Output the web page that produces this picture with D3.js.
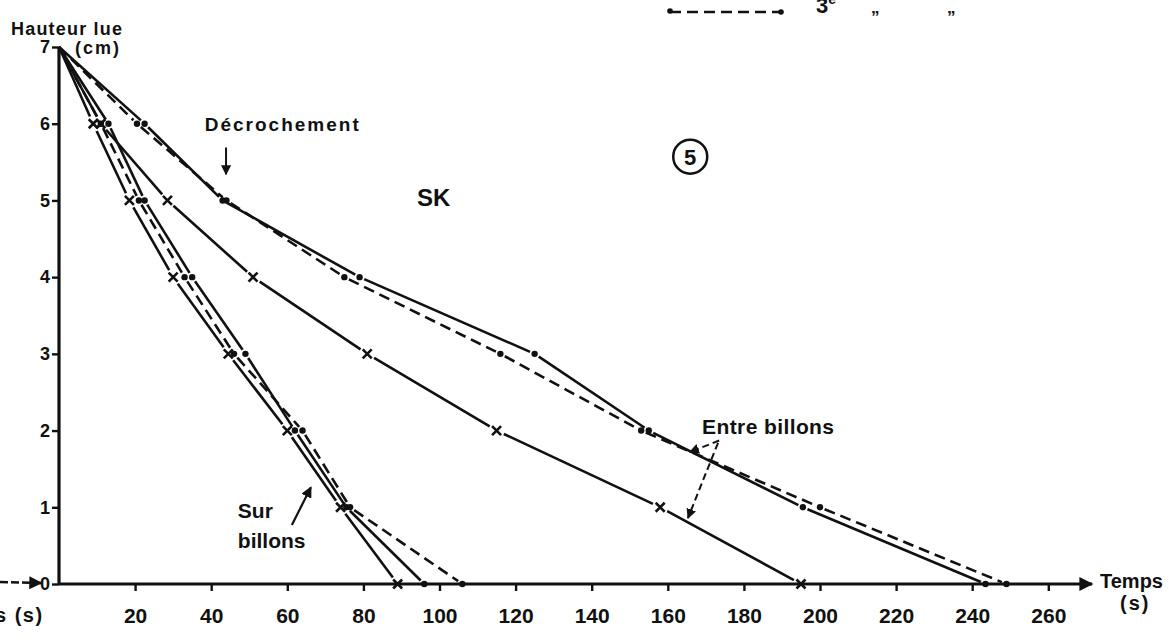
<!DOCTYPE html>
<html>
<head>
<meta charset="utf-8">
<script src="https://cdn.jsdelivr.net/npm/d3@7"></script>
<style>
  html, body { margin: 0; padding: 0; background: #fff; }
  svg { display: block; }
  text { font-family: "Liberation Sans", Arial, sans-serif; font-weight: bold; fill: #111; }
</style>
</head>
<body>
<svg id="chart" width="1169" height="643"></svg>
<script>
// Hauteur lue (cm) at each reading
const hauteurs = [7, 6, 5, 4, 3, 2, 1, 0];

// Temps (s) for each trial — "Sur billons"
const surEssai1 = [0, 9, 18.5, 30, 44.5, 60, 74, 89];
const surEssai2 = [0, 13, 22.5, 35, 49, 62, 75.5, 96];
const surEssai3 = [0, 11, 21, 33, 46, 64, 76.5, 106];

// Temps (s) for each trial — "Entre billons"
const entreEssai1 = [0, 11, 28.5, 51, 81, 115, 158, 195];
const entreEssai2 = [0, 22.5, 43, 79, 125, 155, 195.5, 243.5];
const entreEssai3 = [0, 20.5, 44, 75, 116, 153, 200, 249];

const xTicks = [20, 40, 60, 80, 100, 120, 140, 160, 180, 200, 220, 240, 260];
const yTicks = [0, 1, 2, 3, 4, 5, 6, 7];

const series = [
  { t: surEssai1, marker: "x", dashed: false },
  { t: surEssai2, marker: "dot", dashed: false },
  { t: surEssai3, marker: "dot", dashed: true },
  { t: entreEssai1, marker: "x", dashed: false },
  { t: entreEssai2, marker: "dot", dashed: false },
  { t: entreEssai3, marker: "dot", dashed: true }
];

const svg = d3.select("#chart");
const x = d3.scaleLinear().domain([0, 260]).range([59, 1048.3]);
const y = d3.scaleLinear().domain([0, 7]).range([584, 47]);

const ink = "#111";

// arrowheads
const defs = svg.append("defs");
defs.append("marker").attr("id", "head").attr("viewBox", "0 0 10 10")
  .attr("refX", 9).attr("refY", 5).attr("markerWidth", 5).attr("markerHeight", 5)
  .attr("markerUnits", "strokeWidth").attr("orient", "auto")
  .append("path").attr("d", "M0,0 L10,5 L0,10 z").attr("fill", ink);
defs.append("marker").attr("id", "bigHead").attr("viewBox", "0 0 10 10")
  .attr("refX", 9).attr("refY", 5).attr("markerWidth", 7).attr("markerHeight", 5)
  .attr("markerUnits", "strokeWidth").attr("orient", "auto")
  .append("path").attr("d", "M0,0 L10,5 L0,10 z").attr("fill", ink);

// axes
const xAxis = d3.axisBottom(x).tickValues(xTicks).tickSize(7).tickPadding(17)
  .tickFormat(d3.format("d"));
const gx = svg.append("g").attr("transform", `translate(0,${y(0)})`).call(xAxis);
gx.select(".domain").remove();
gx.selectAll(".tick line").attr("stroke", ink).attr("stroke-width", 2.4);
gx.selectAll(".tick text").attr("font-size", 21).attr("fill", ink);
svg.append("line")
  .attr("x1", x(0)).attr("x2", 1092).attr("y1", y(0)).attr("y2", y(0))
  .attr("stroke", ink).attr("stroke-width", 2.8).attr("marker-end", "url(#bigHead)");

const yAxis = d3.axisLeft(y).tickValues(yTicks).tickSize(7).tickPadding(2)
  .tickFormat(d3.format("d"));
const gy = svg.append("g").attr("transform", `translate(${x(0)},0)`).call(yAxis);
gy.select(".domain").remove();
gy.selectAll(".tick line").attr("stroke", ink).attr("stroke-width", 2.4);
gy.selectAll(".tick text").attr("font-size", 18).attr("fill", ink);
svg.append("line")
  .attr("x1", x(0)).attr("x2", x(0)).attr("y1", y(0) + 1).attr("y2", y(7))
  .attr("stroke", ink).attr("stroke-width", 3.2);

// axis titles
svg.append("text").attr("x", 11).attr("y", 35).attr("font-size", 18)
  .attr("letter-spacing", 1.2).text("Hauteur lue");
svg.append("text").attr("x", 75).attr("y", 54).attr("font-size", 18)
  .attr("letter-spacing", 2).text("(cm)");
svg.append("text").attr("x", 1100).attr("y", 588).attr("font-size", 20).text("Temps");
svg.append("text").attr("x", 1120).attr("y", 610).attr("font-size", 20)
  .attr("letter-spacing", 2).text("(s)");

// curves, each segment trimmed so the line stops short of its markers
const curves = svg.append("g");
series.forEach(s => {
  const pts = s.t.map((t, i) => [x(t), y(hauteurs[i])]);
  const gap = s.marker === "x" ? 8 : 5;
  for (let i = 0; i < pts.length - 1; i++) {
    const [x1, y1] = pts[i], [x2, y2] = pts[i + 1];
    const len = Math.hypot(x2 - x1, y2 - y1);
    const ux = (x2 - x1) / len, uy = (y2 - y1) / len;
    const a = i === 0 ? 0 : gap;
    const b = gap;
    curves.append("line")
      .attr("x1", x1 + ux * a).attr("y1", y1 + uy * a)
      .attr("x2", x2 - ux * b).attr("y2", y2 - uy * b)
      .attr("stroke", ink).attr("stroke-width", 2.6)
      .attr("stroke-dasharray", s.dashed ? "11,6" : null);
  }
  pts.slice(1).forEach(([px, py]) => {
    if (s.marker === "x") {
      const r = 4.5;
      curves.append("path")
        .attr("d", `M${px - r},${py - r}L${px + r},${py + r}M${px - r},${py + r}L${px + r},${py - r}`)
        .attr("stroke", ink).attr("stroke-width", 2.6).attr("fill", "none");
    } else {
      curves.append("circle").attr("cx", px).attr("cy", py).attr("r", 3.2).attr("fill", ink);
    }
  });
});

// annotations
const ann = svg.append("g");
ann.append("text").attr("x", x(38.3)).attr("y", y(5.91)).attr("font-size", 19)
  .attr("letter-spacing", 2).text("Décrochement");
ann.append("line").attr("x1", x(43.9)).attr("x2", x(43.9)).attr("y1", y(5.69)).attr("y2", y(5.34))
  .attr("stroke", ink).attr("stroke-width", 2).attr("marker-end", "url(#head)");

ann.append("text").attr("x", x(98.5)).attr("y", y(4.93)).attr("font-size", 24)
  .attr("text-anchor", "middle").text("SK");

ann.append("circle").attr("cx", x(165.9)).attr("cy", y(5.57)).attr("r", 17)
  .attr("fill", "none").attr("stroke", ink).attr("stroke-width", 2.5);
ann.append("text").attr("x", x(165.9)).attr("y", y(5.57) + 8).attr("font-size", 22)
  .attr("text-anchor", "middle").text("5");

ann.append("text").attr("x", x(169)).attr("y", y(1.95)).attr("font-size", 21)
  .attr("letter-spacing", 0.4).text("Entre billons");
ann.append("line").attr("x1", x(173.5)).attr("y1", y(1.87)).attr("x2", x(165.8)).attr("y2", y(1.72))
  .attr("stroke", ink).attr("stroke-width", 2).attr("stroke-dasharray", "7,4")
  .attr("marker-end", "url(#head)");
ann.append("line").attr("x1", x(173.2)).attr("y1", y(1.84)).attr("x2", x(165.3)).attr("y2", y(0.86))
  .attr("stroke", ink).attr("stroke-width", 2).attr("stroke-dasharray", "7,4")
  .attr("marker-end", "url(#head)");

ann.append("text").attr("x", x(47)).attr("y", y(0.86)).attr("font-size", 21).text("Sur");
ann.append("text").attr("x", x(47)).attr("y", y(0.47)).attr("font-size", 21).text("billons");
ann.append("line").attr("x1", x(61.2)).attr("y1", y(0.77)).attr("x2", x(66.2)).attr("y2", y(1.26))
  .attr("stroke", ink).attr("stroke-width", 2.2).attr("marker-end", "url(#head)");

// legend entry running off the top edge
const leg = svg.append("g");
leg.append("line").attr("x1", 670).attr("x2", 781).attr("y1", 12).attr("y2", 12)
  .attr("stroke", ink).attr("stroke-width", 2.6).attr("stroke-dasharray", "11,6");
leg.append("circle").attr("cx", 670).attr("cy", 11).attr("r", 2.8).attr("fill", ink);
leg.append("circle").attr("cx", 781).attr("cy", 12).attr("r", 2.8).attr("fill", ink);
const third = leg.append("text").attr("x", 816).attr("y", 13).attr("font-size", 22);
third.append("tspan").text("3");
third.append("tspan").attr("font-size", 14).attr("dy", -9).text("e");
leg.append("text").attr("x", 871).attr("y", 23).attr("font-size", 17).text("\u201D");
leg.append("text").attr("x", 947).attr("y", 23).attr("font-size", 17).text("\u201D");

// neighbouring panel's axis, clipped at the left edge
svg.append("text").attr("x", -5).attr("y", 622).attr("font-size", 20)
  .attr("letter-spacing", 1.5).text("s (s)");
svg.append("line").attr("x1", 0).attr("x2", 41).attr("y1", 582).attr("y2", 583)
  .attr("stroke", ink).attr("stroke-width", 2.6).attr("stroke-dasharray", "8,3")
  .attr("marker-end", "url(#head)");
</script>
</body>
</html>
